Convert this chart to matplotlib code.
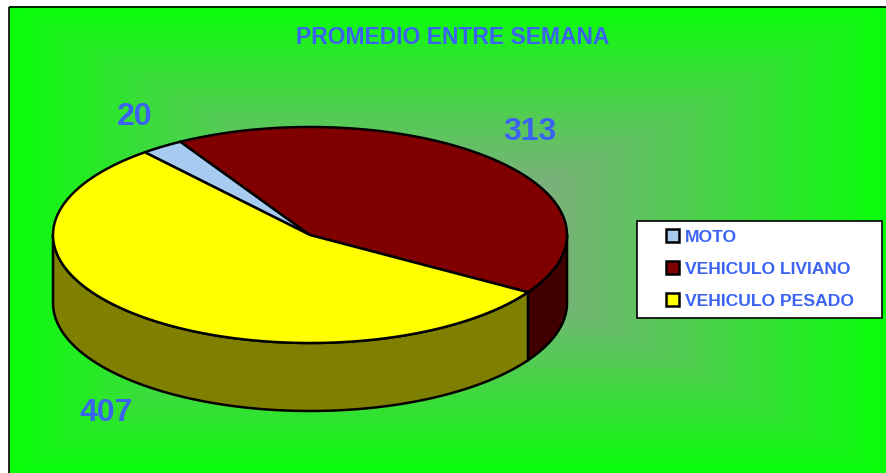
import numpy as np
import matplotlib.pyplot as plt
from matplotlib.patches import Polygon, Patch, Rectangle

plt.rcParams['font.family'] = ['Liberation Sans', 'DejaVu Sans']

# Données
categories = ['MOTO', 'VEHICULO LIVIANO', 'VEHICULO PESADO']
valeurs = [20, 313, 407]
couleurs = ['#A6CAF0', '#800000', '#FFFF00']
couleurs_cote = ['#5f7a96', '#400000', '#808000']
titre = 'PROMEDIO ENTRE SEMANA'

# Géométrie (pixels)
W, H = 886, 473
cx, cy = 310, 235      # centre de la face du dessus
rx, ry = 257, 108      # demi-axes de l'ellipse
prof = 68              # épaisseur du camembert
angle_depart = 130     # degrés, sens horaire
pos_etiquettes = [(135, 117), (530, 132), (106, 413)]
bleu = '#3B63F2'

fig = plt.figure(figsize=(W / 100, H / 100), dpi=100, facecolor='white')
ax = fig.add_axes([0, 0, 1, 1])
ax.set_xlim(0, W)
ax.set_ylim(H, 0)
ax.axis('off')

# Fond : dégradé rectangulaire depuis le centre
x0, y0 = 9, 7
xs = np.linspace(x0, W, 600)
ys = np.linspace(y0, H, 320)
X, Y = np.meshgrid(xs, ys)
mx, my = (x0 + W) / 2, (y0 + H) / 2
t = np.maximum(np.abs(X - mx) / ((W - x0) / 2), np.abs(Y - my) / ((H - y0) / 2))
t = np.clip(t, 0, 1) ** 1.25
centre = np.array([145, 162, 145]) / 255
bord = np.array([8, 255, 8]) / 255
img = centre[None, None, :] * (1 - t[..., None]) + bord[None, None, :] * t[..., None]
ax.imshow(img, extent=(x0, W, H, y0), aspect='auto', zorder=0)
ax.add_patch(Rectangle((x0, y0), W - x0 + 5, H - y0 + 5, fill=False,
                       edgecolor='black', linewidth=1.2, zorder=1))


def point(theta, dy=0):
    th = np.radians(theta)
    return cx + rx * np.cos(th), cy - ry * np.sin(th) + dy


total = sum(valeurs)
bornes = angle_depart - 360 * np.concatenate([[0], np.cumsum(valeurs)]) / total

# Côtés visibles (moitié avant)
for i in range(len(valeurs)):
    a1, a2 = bornes[i], bornes[i + 1]
    for k in (-1, 0, 1):
        lo = max(a2, -180 + 360 * k)
        hi = min(a1, 360 * k)
        if hi <= lo:
            continue
        th = np.linspace(lo, hi, 120)
        haut = [point(a) for a in th]
        bas = [point(a, prof) for a in th[::-1]]
        ax.add_patch(Polygon(haut + bas, closed=True, facecolor=couleurs_cote[i],
                             edgecolor='black', linewidth=1.8, zorder=2))

# Face du dessus
for i in range(len(valeurs)):
    a1, a2 = bornes[i], bornes[i + 1]
    th = np.linspace(a1, a2, 200)
    pts = [(cx, cy)] + [point(a) for a in th]
    ax.add_patch(Polygon(pts, closed=True, facecolor=couleurs[i],
                         edgecolor='black', linewidth=1.8, zorder=3))

# Étiquettes
for v, (px, py) in zip(valeurs, pos_etiquettes):
    ax.text(px, py, str(v), color=bleu, fontsize=23, fontweight='bold',
            ha='center', va='center', zorder=4)

ax.text(453, 38, titre, color=bleu, fontsize=16.5, fontweight='bold',
        ha='center', va='center', zorder=4)

# Légende
ax.add_patch(Rectangle((637, 221), 245, 97, facecolor='white',
                       edgecolor='black', linewidth=1.2, zorder=4))
poignees = [Patch(facecolor=c, edgecolor='black', linewidth=1.8) for c in couleurs]
leg = fig.legend(poignees, categories, loc='center left',
                 bbox_to_anchor=(666 / W, 1 - 269 / H), frameon=False,
                 borderpad=0, borderaxespad=0, handlelength=0.75, handleheight=0.75,
                 handletextpad=0.35, labelspacing=0.95,
                 prop={'size': 12.6, 'weight': 'bold'})
for txt in leg.get_texts():
    txt.set_color(bleu)
leg.set_zorder(5)

fig.savefig('out.png', dpi=100, facecolor='white')
